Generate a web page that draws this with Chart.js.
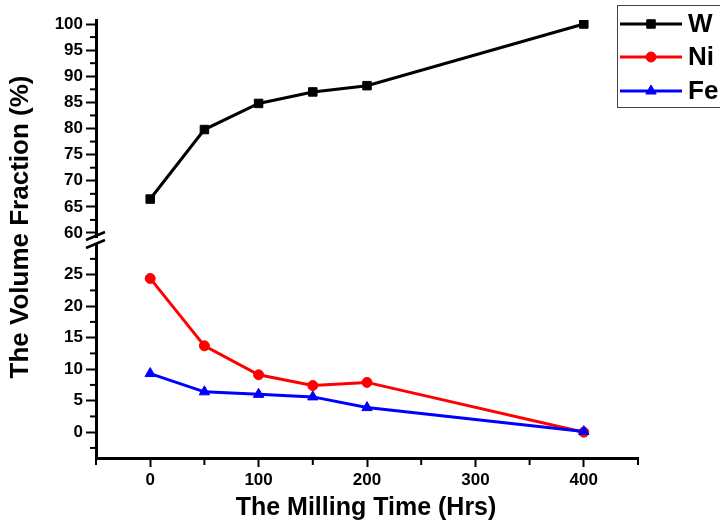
<!DOCTYPE html>
<html>
<head>
<meta charset="utf-8">
<script src="https://cdn.jsdelivr.net/npm/chart.js@4.4.1/dist/chart.umd.min.js"></script>
<style>
  html, body { margin: 0; padding: 0; background: #fff; }
  #wrap { width: 720px; height: 528px; }
</style>
</head>
<body>
<div id="wrap"><canvas id="chart"></canvas></div>
<script>
// milling time (hrs) and volume fractions (%)
const millingHrs = [0, 50, 100, 150, 200, 400];
const wFraction = [66.5, 79.8, 84.8, 87.0, 88.2, 100];
const niFraction = [24.4, 13.7, 9.1, 7.4, 7.9, 0.0];
const feFraction = [9.3, 6.4, 6.0, 5.6, 3.9, 0.1];

const seriesLabels = ['W', 'Ni', 'Fe'];
const xTicks = [0, 100, 200, 300, 400];
const yUpperTicks = [60, 65, 70, 75, 80, 85, 90, 95, 100];
const yLowerTicks = [0, 5, 10, 15, 20, 25];
const xTitle = 'The Milling Time (Hrs)';
const yTitle = 'The Volume Fraction (%)';

const FONT = '"Liberation Sans", Arial, sans-serif';

function toPoints(xs, ys) {
  return xs.map((x, i) => ({ x: x, y: ys[i] }));
}

function tickFont() {
  return { family: FONT, size: 17, weight: 'bold' };
}

// y axis shared settings
function yAxis(min, max, weight, order, tickVals) {
  return {
    type: 'linear',
    position: 'left',
    stack: 'vol',
    stackWeight: weight,
    weight: order,
    min: min,
    max: max,
    border: { display: true, color: '#000', width: 3 },
    grid: { drawOnChartArea: false, drawTicks: true, tickLength: 10, tickWidth: 2, tickColor: '#000' },
    ticks: { autoSkip: false, color: '#000', padding: 3, font: tickFont() },
    afterBuildTicks: s => { s.ticks = tickVals.map(v => ({ value: v })); },
    afterFit: s => { s.width = 96; }
  };
}

// minor ticks, axis break, titles and legend
const extras = {
  id: 'extras',
  afterDraw(chart) {
    const ctx = chart.ctx;
    const area = chart.chartArea;
    const sx = chart.scales.x, yUp = chart.scales.yUp, yLow = chart.scales.yLow;
    ctx.save();
    ctx.strokeStyle = '#000';
    ctx.lineWidth = 2;

    // minor ticks on x
    for (let v = -50; v <= 450; v += 100) {
      const px = sx.getPixelForValue(v);
      ctx.beginPath();
      ctx.moveTo(px, area.bottom);
      ctx.lineTo(px, area.bottom + 7);
      ctx.stroke();
    }
    // minor ticks on y segments
    const minorY = (scale, from, to) => {
      for (let v = from; v <= to; v += 5) {
        const py = scale.getPixelForValue(v);
        ctx.beginPath();
        ctx.moveTo(area.left, py);
        ctx.lineTo(area.left - 6, py);
        ctx.stroke();
      }
    };
    minorY(yUp, 62.5, 97.5);
    minorY(yLow, -2.5, 27.5);

    // axis break
    const seam = yUp.bottom;
    ctx.fillStyle = '#fff';
    ctx.fillRect(area.left - 4, seam - 2, 8, 5);
    ctx.lineWidth = 2.5;
    ctx.beginPath();
    ctx.moveTo(area.left - 10, seam);
    ctx.lineTo(area.left + 9, seam - 8);
    ctx.moveTo(area.left - 10, seam + 8);
    ctx.lineTo(area.left + 9, seam);
    ctx.stroke();

    // axis titles
    ctx.fillStyle = '#000';
    ctx.textAlign = 'center';
    ctx.textBaseline = 'middle';
    ctx.font = 'bold 25px ' + FONT;
    ctx.fillText(xTitle, (area.left + area.right) / 2 - 1, 508);
    ctx.save();
    ctx.translate(21, 227);
    ctx.rotate(-Math.PI / 2);
    ctx.font = 'bold 26px ' + FONT;
    ctx.fillText(yTitle, 0, 0);
    ctx.restore();

    // legend box
    ctx.lineWidth = 1;
    ctx.strokeStyle = '#444';
    ctx.strokeRect(617.5, 5.5, 150, 102);
    const rows = [24, 57, 91];
    chart.data.datasets.forEach((ds, i) => {
      const y = rows[i];
      ctx.strokeStyle = ds.borderColor;
      ctx.lineWidth = 3;
      ctx.beginPath();
      ctx.moveTo(620, y);
      ctx.lineTo(682, y);
      ctx.stroke();
      ctx.fillStyle = ds.pointBackgroundColor;
      ctx.strokeStyle = ds.pointBorderColor;
      ctx.lineWidth = 1;
      Chart.helpers.drawPoint(ctx, { pointStyle: ds.pointStyle, radius: ds.pointRadius, rotation: 0, borderWidth: 1 }, 651, y);
      ctx.fillStyle = '#000';
      ctx.textAlign = 'left';
      ctx.font = 'bold 26px ' + FONT;
      ctx.fillText(ds.label, 688, y + 1);
    });
    ctx.restore();
  }
};

function series(label, ys, color, style, radius, axis, order) {
  return {
    label: label,
    data: toPoints(millingHrs, ys),
    yAxisID: axis,
    borderColor: color,
    backgroundColor: color,
    pointBackgroundColor: color,
    pointBorderColor: color,
    pointStyle: style,
    pointRadius: radius,
    pointBorderWidth: 1,
    borderWidth: 3,
    tension: 0,
    order: order
  };
}

const ctx = document.getElementById('chart');
new Chart(ctx, {
  type: 'line',
  data: {
    datasets: [
      series(seriesLabels[0], wFraction, '#000000', 'rect', 6, 'yUp', 2),
      series(seriesLabels[1], niFraction, '#ff0000', 'circle', 5, 'yLow', 1),
      series(seriesLabels[2], feFraction, '#0000ff', 'triangle', 6, 'yLow', 0)
    ]
  },
  options: {
    responsive: true,
    maintainAspectRatio: false,
    animation: false,
    layout: { padding: { left: 0, top: 20, right: 82, bottom: 0 } },
    plugins: { legend: { display: false }, tooltip: { enabled: false } },
    scales: {
      x: {
        type: 'linear',
        position: 'bottom',
        min: -50,
        max: 450,
        border: { display: true, color: '#000', width: 3 },
        grid: { drawOnChartArea: false, drawTicks: true, tickLength: 9, tickWidth: 2, tickColor: '#000' },
        ticks: { autoSkip: false, color: '#000', padding: 3, font: tickFont() },
        afterBuildTicks: s => { s.ticks = xTicks.map(v => ({ value: v })); },
        afterFit: s => { s.height = 70; }
      },
      yUp: yAxis(58.66, 100.77, 220, 1, yUpperTicks),
      yLow: yAxis(-4.1, 30.5, 218, 0, yLowerTicks)
    }
  },
  plugins: [extras]
});
</script>
</body>
</html>
